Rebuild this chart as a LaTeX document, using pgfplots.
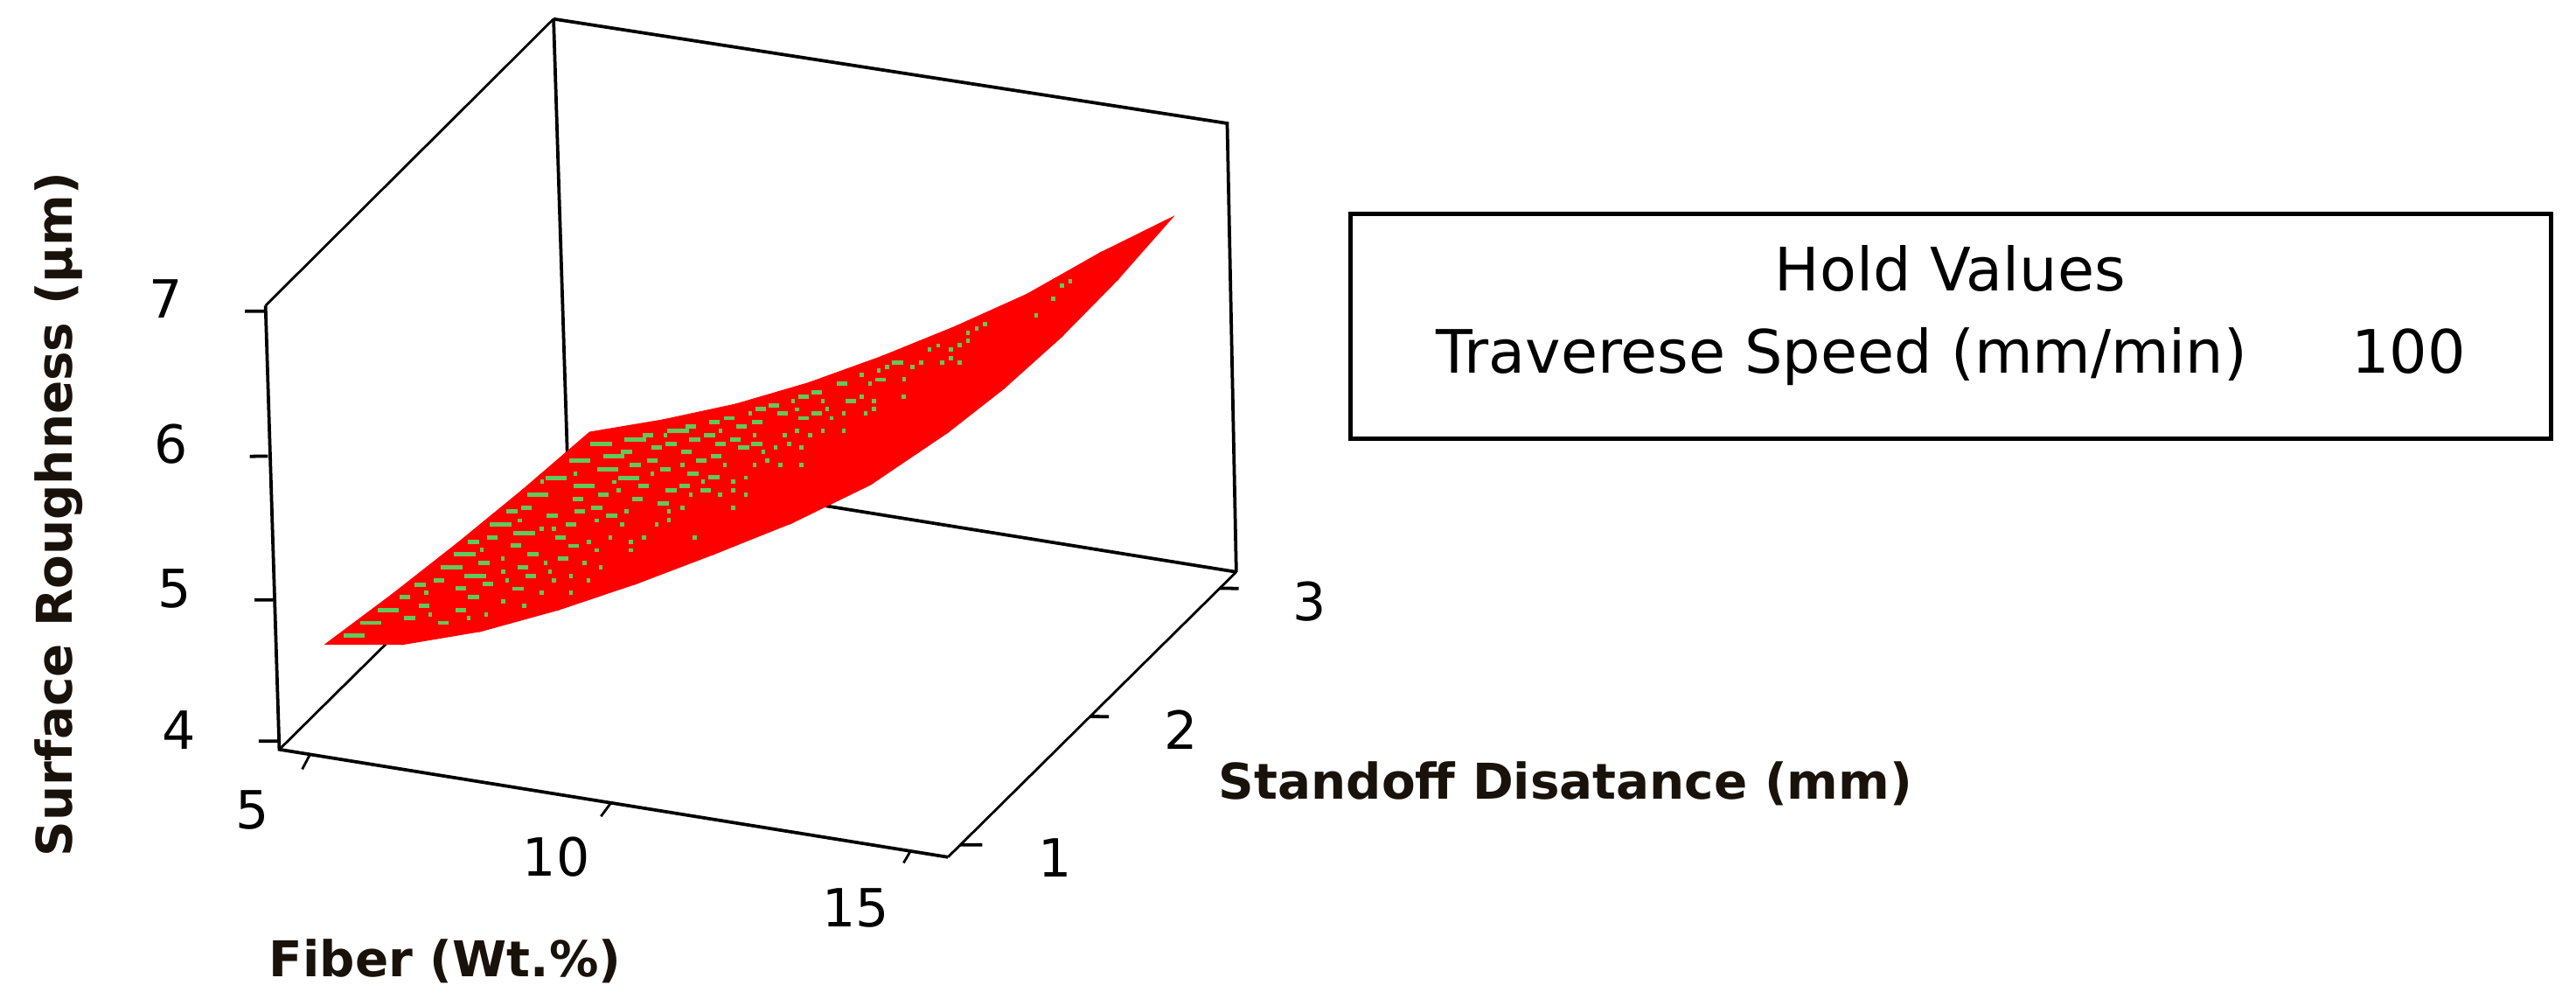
\documentclass[border=0pt]{standalone}
\usepackage{pgfplots}
\pgfplotsset{compat=1.18}
\usepackage{fontspec}
\setmainfont{DejaVu Sans}
\definecolor{grn}{RGB}{98,200,92}
\definecolor{lab}{RGB}{25,18,10}
\pgfplotstableread{
x y z
5.3 1.18 4.559
5.308 1.635 4.455
5.315 2.09 4.367
5.323 2.545 4.295
5.33 3 4.241
6.513 1.158 4.669
6.519 1.604 4.588
6.526 2.051 4.527
6.533 2.498 4.487
6.539 2.945 4.465
7.725 1.135 4.868
7.731 1.574 4.793
7.737 2.013 4.743
7.742 2.451 4.715
7.748 2.89 4.712
8.938 1.113 5.123
8.942 1.543 5.05
8.947 1.974 5.005
8.951 2.404 4.988
8.956 2.835 4.997
10.15 1.09 5.41
10.154 1.513 5.341
10.158 1.935 5.302
10.161 2.358 5.294
10.165 2.78 5.316
11.363 1.068 5.72
11.365 1.482 5.653
11.368 1.896 5.621
11.371 2.311 5.621
11.374 2.725 5.657
12.575 1.045 6.041
12.577 1.451 5.98
12.579 1.858 5.956
12.581 2.264 5.969
12.583 2.67 6.02
13.788 1.023 6.407
13.788 1.421 6.353
13.789 1.819 6.34
13.79 2.217 6.369
13.79 2.615 6.439
15 1 6.872
15 1.39 6.794
15 1.78 6.759
15 2.17 6.769
15 2.56 6.824
}\surfacedata
\begin{document}
\begin{tikzpicture}[x=0.5pt,y=0.5pt]
\path[use as bounding box] (0,0) rectangle (1568,612);
\begin{axis}[
  disabledatascaling, hide axis, clip=false,
  anchor=origin, at={(70.44pt,70.8pt)},
  x={(20.35pt,-3.275pt)}, y={(43.875pt,43.375pt)}, z={(0pt,45pt)},
  xmin=4.5,xmax=15.5,ymin=0.9,ymax=3.1,zmin=3.9,zmax=7.2,
  colormap={redonly}{rgb255=(255,0,0) rgb255=(255,0,0)},
]
% box
\addplot3[black,line width=1pt] coordinates {(4.822,0.987,7) (5,1,4) (15,1,4)};
\addplot3[black,line width=0.75pt] coordinates {(15,1,4) (15,3,4)};
\addplot3[black,line width=1pt] coordinates {(15,3,4) (14.884,2.991,7.033) (4.82,2.986,7.011)};
\addplot3[black,line width=0.75pt] coordinates {(4.82,2.986,7.011) (4.822,0.987,7)};
\addplot3[black,line width=0.75pt] coordinates {(5,1,4) (5,3,4)};
\addplot3[black,line width=1pt] coordinates {(5,3,4) (15,3,4)};
\addplot3[black,line width=1pt] coordinates {(5,3,4) (4.82,2.986,7.011)};
% z ticks
\addplot3[black,line width=1pt] coordinates {(5,1,4.056) (4.736,0.98,4.056)};
\addplot3[black,line width=1pt] coordinates {(4.926,0.994,5.011) (4.683,0.976,5.011)};
\addplot3[black,line width=1pt] coordinates {(4.852,0.989,5.982) (4.62,0.971,5.982)};
\addplot3[black,line width=1pt] coordinates {(4.81,0.986,6.962) (4.556,0.967,6.962)};
% x ticks
\addplot3[black,line width=0.75pt] coordinates {(5.46,1,4) (5.552,0.903,4)};
\addplot3[black,line width=0.75pt] coordinates {(9.96,1,4) (10.007,0.909,4)};
\addplot3[black,line width=0.75pt] coordinates {(14.44,1,4) (14.505,0.922,4)};
% y ticks
\addplot3[black,line width=1pt] coordinates {(15,1.086,4) (15.283,1.107,4)};
\addplot3[black,line width=1pt] coordinates {(15,1.986,4) (15.243,2.004,4)};
\addplot3[black,line width=1pt] coordinates {(15,2.885,4) (15.245,2.903,4)};
% surface
\addplot3[surf,shader=flat,draw=red,line width=0.3pt,mesh/rows=9,mesh/cols=5] table[x=x,y=y,z=z] {\surfacedata};
% green marks: long dashes
\addplot3[only marks,mark=-,mark size=3.25pt,mark options={draw=grn,line width=1.3pt}] coordinates {
(3.963,2,3.730) (4.214,2,3.835) (4.471,2,3.941) (5.422,2,4.298) (5.615,2,4.399) (5.772,2,4.266)
(6.152,2,4.641) (6.508,2,4.607) (6.987,2,5.017) (6.707,2,4.882) (7.401,2,4.990) (7.337,2,5.159)
(7.845,2,5.225) (7.658,2,5.296) (8.166,2,5.363) (8.073,2,5.096) (8.808,2,5.467) (7.757,2,5.132)};
% green marks: medium dashes
\addplot3[only marks,mark=-,mark size=1.65pt,mark options={draw=grn,line width=1.3pt}] coordinates {
(4.722,2,4.046) (5.300,2,3.914) (4.792,2,3.907) (5.556,2,4.164) (5.749,2,4.121) (5.235,2,4.198)
(4.949,2,4.147) (5.008,2,4.007) (5.556,2,4.020) (6.029,2,4.545) (5.749,2,4.495) (6.385,2,4.514)
(5.907,2,4.363) (6.636,2,4.473) (7.086,2,4.478) (6.485,2,4.377) (5.965,2,4.223) (6.607,2,4.327)
(6.415,2,4.226) (6.321,2,4.740) (6.543,2,4.783) (6.923,2,4.754) (7.209,2,4.716) (7.051,2,4.619)
(7.244,2,4.576) (7.337,2,4.814) (7.594,2,4.860) (7.816,2,4.819) (7.687,2,4.954) (7.308,2,4.898)
(8.201,2,4.963) (8.294,2,5.055) (8.586,2,4.962) (8.616,2,5.194) (8.166,2,5.191) (8.423,2,5.238)
(8.038,2,5.269) (8.487,2,5.329) (8.931,2,5.334) (9.380,2,5.337) (8.703,2,5.372) (9.059,2,5.428)
(9.281,2,5.474) (8.359,2,5.406) (9.001,2,5.510) (9.573,2,5.609) (9.760,2,5.566) (10.046,2,5.703)
(10.239,2,5.744) (10.367,2,5.697) (10.688,2,5.836) (10.688,2,5.690) (10.881,2,5.734) (11.389,2,5.858)
(9.351,2,5.565) (9.988,2,5.612) (9.666,2,5.472) (9.987,2,5.466) (9.439,2,5.426) (9.789,2,5.424)
(9.153,2,5.291) (9.030,2,5.195) (9.345,2,5.191) (8.907,2,5.101) (9.217,2,5.095) (8.703,2,5.057)
(11.262,2,5.965) (10.881,2,5.880) (11.837,2,6.034) (12.092,2,6.169)};
% green marks: dots
\addplot3[only marks,mark=-,mark size=0.6pt,mark options={draw=grn,line width=1.3pt}] coordinates {
(5.101,2,3.957) (5.936,2,4.018) (5.679,2,3.972) (6.508,2,4.117) (6.193,2,4.123) (5.043,2,4.099)
(6.765,2,4.224) (7.209,2,4.256) (6.251,2,4.271) (6.952,2,4.322) (7.209,2,4.371) (7.465,2,4.360)
(6.193,2,4.326) (6.893,2,4.377) (6.187,2,4.413) (6.829,2,4.430) (7.407,2,4.472) (7.652,2,4.462)
(5.872,2,4.447) (7.594,2,4.572) (8.102,2,4.609) (7.471,2,4.620) (8.102,2,4.666) (8.300,2,4.710)
(9.059,2,4.766) (7.792,2,4.673) (6.765,2,4.656) (6.952,2,4.669) (7.973,2,4.773) (8.487,2,4.811)
(7.594,2,4.773) (8.674,2,4.852) (6.444,2,4.689) (8.038,2,4.865) (8.674,2,4.911) (8.872,2,4.953)
(9.631,2,5.008) (8.995,2,5.049) (9.439,2,5.081) (9.824,2,5.109) (7.921,2,5.000) (9.631,2,5.124)
(6.777,2,4.974) (7.851,2,5.052) (9.182,2,5.149) (9.631,2,5.182) (7.273,2,5.067) (8.423,2,5.151)
(9.824,2,5.225) (8.872,2,5.243) (9.509,2,5.289) (9.952,2,5.321) (10.338,2,5.349) (10.653,2,5.372)
(10.145,2,5.363) (10.081,2,5.417) (10.268,2,5.459) (10.653,2,5.487) (10.466,2,5.501) (9.952,2,5.522)
(10.402,2,5.555) (10.781,2,5.583) (9.445,2,5.513) (8.616,2,5.425) (10.589,2,5.596) (10.974,2,5.624)
(11.289,2,5.647) (10.589,2,5.742) (11.038,2,5.775) (11.103,2,5.720) (11.289,2,5.764) (9.888,2,5.662)
(10.974,2,5.827) (10.525,2,5.795)
(11.611,2,5.789) (11.736,2,5.883) (11.736,2,5.826) (11.552,2,5.899) (12.181,2,5.945) (12.188,2,6.060)
(11.677,2,5.995) (11.552,2,6.043) (11.807,2,6.091) (11.932,2,6.128) (12.313,2,6.156) (12.443,2,6.194)
(12.758,2,6.217) (13.018,2,6.236) (12.888,2,6.257) (12.888,2,6.313) (12.566,2,6.290) (12.697,2,6.327)
(13.018,2,6.351) (13.144,2,6.390) (13.144,2,6.446) (13.274,2,6.486) (13.399,2,6.525) (14.163,2,6.637)
(14.419,2,6.770) (14.549,2,6.866) (14.675,2,6.904)};
\end{axis}
% tick labels
\begin{scope}[every node/.style={font=\fontsize{16}{18}\selectfont,inner sep=0pt}]
\node at (101,430) {7};
\node at (104,342) {6};
\node at (106.5,254) {5};
\node at (109,168) {4};
\node at (153.5,119) {5};
\node at (338.6,90.4) {10};
\node at (521,59.4) {15};
\node at (642,90) {1};
\node at (719,168) {2};
\node at (797,246) {3};
\end{scope}
% axis labels
\node[font=\bfseries\fontsize{15}{17}\selectfont,text=lab,inner sep=0pt] at (271,27) {Fiber (Wt.\%)};
\node[font=\bfseries\fontsize{15}{17}\selectfont,text=lab,inner sep=0pt] at (953,135) {Standoff Disatance (mm)};
\node[font=\bfseries\fontsize{15}{17}\selectfont,text=lab,inner sep=0pt,rotate=90] at (36,299) {Surface Roughness (µm)};
% hold values box
\draw[black,line width=1.3pt] (822,345) rectangle (1553,482);
\node[font=\fontsize{18.2}{20}\selectfont,inner sep=0pt,anchor=base west] at (1080,435) {Hold Values};
\node[font=\fontsize{18.2}{20}\selectfont,inner sep=0pt,anchor=base west] at (874,385) {Traverese Speed (mm/min)};
\node[font=\fontsize{18.2}{20}\selectfont,inner sep=0pt,anchor=base west] at (1431,385) {100};
\end{tikzpicture}
\end{document}
